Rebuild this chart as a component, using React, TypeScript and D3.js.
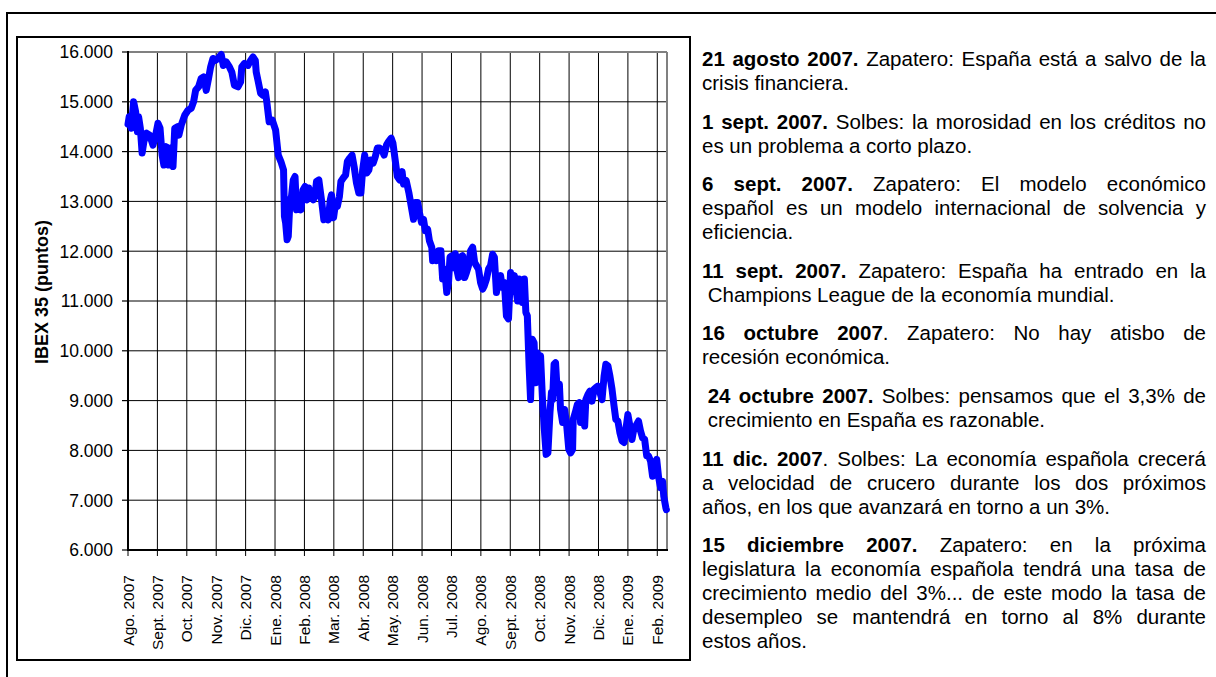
import React, { useMemo } from "react";
import * as d3 from "d3";

// ---------- DATA ----------
const monthLabels = [
  "Ago. 2007", "Sept. 2007", "Oct. 2007", "Nov. 2007", "Dic. 2007",
  "Ene. 2008", "Feb. 2008", "Mar. 2008", "Abr. 2008", "May. 2008",
  "Jun. 2008", "Jul. 2008", "Ago. 2008", "Sept. 2008", "Oct. 2008",
  "Nov. 2008", "Dic. 2008", "Ene. 2009", "Feb. 2009",
];

const yTickValues = [6000, 7000, 8000, 9000, 10000, 11000, 12000, 13000, 14000, 15000, 16000];

const axisTitle = "IBEX 35 (puntos)";

// position in months since start of Aug 2007
const monthPos = [
  0.0, 0.04, 0.11, 0.19, 0.26, 0.32, 0.36, 0.42, 0.48, 0.54, 0.63, 0.74, 0.85, 0.93,
  1.02, 1.09, 1.16, 1.22, 1.3, 1.38, 1.45, 1.53, 1.59, 1.68, 1.73, 1.81, 1.93,
  2.04, 2.15, 2.23, 2.3, 2.4, 2.49, 2.57, 2.66, 2.74, 2.81, 2.89, 2.97,
  3.06, 3.17, 3.24, 3.34, 3.45, 3.53, 3.62, 3.74, 3.83, 3.87, 3.96,
  4.08, 4.17, 4.25, 4.33, 4.36, 4.42, 4.51, 4.59, 4.67, 4.72, 4.8, 4.91,
  5.02, 5.11, 5.2, 5.29, 5.32, 5.36, 5.41, 5.45, 5.51, 5.56, 5.62, 5.68, 5.73, 5.81, 5.88, 5.95,
  6.02, 6.08, 6.15, 6.22, 6.3, 6.36, 6.41, 6.49, 6.58, 6.66, 6.75, 6.81, 6.88, 6.92, 6.99,
  7.06, 7.12, 7.19, 7.24, 7.32, 7.4, 7.46, 7.54, 7.62, 7.69, 7.77, 7.85, 7.92, 7.98,
  8.05, 8.12, 8.19, 8.25, 8.34, 8.41, 8.48, 8.56, 8.64, 8.71, 8.79, 8.86, 8.95,
  9.01, 9.07, 9.16, 9.24, 9.32, 9.37, 9.46, 9.55, 9.63, 9.71, 9.77, 9.85, 9.91, 9.98,
  10.05, 10.11, 10.19, 10.25, 10.33, 10.36, 10.43, 10.5, 10.56, 10.64, 10.7, 10.77, 10.84, 10.9, 10.95,
  11.02, 11.08, 11.13, 11.18, 11.24, 11.31, 11.38, 11.45, 11.51, 11.58, 11.65, 11.72, 11.79, 11.85, 11.92, 11.99,
  12.06, 12.12, 12.19, 12.26, 12.33, 12.4, 12.46, 12.53, 12.6, 12.67, 12.73, 12.8, 12.87, 12.94,
  13.01, 13.07, 13.14, 13.21, 13.25, 13.3, 13.37, 13.41, 13.48, 13.53, 13.58, 13.64, 13.69, 13.75, 13.81, 13.86, 13.92, 13.98,
  14.03, 14.09, 14.15, 14.22, 14.28, 14.35, 14.4, 14.44, 14.49, 14.54, 14.6, 14.67, 14.71, 14.78, 14.85, 14.92, 14.99,
  15.05, 15.12, 15.14, 15.21, 15.28, 15.35, 15.39, 15.46, 15.53, 15.57, 15.64, 15.71, 15.78, 15.85, 15.91, 15.98,
  16.05, 16.12, 16.19, 16.25, 16.32, 16.39, 16.46, 16.53, 16.59, 16.66, 16.73, 16.8, 16.87, 16.93,
  17.0, 17.07, 17.14, 17.2, 17.27, 17.36, 17.43, 17.5, 17.57, 17.64, 17.7, 17.77, 17.84, 17.91, 17.98,
  18.04, 18.11, 18.18, 18.22, 18.29, 18.31,
];

const ibexValues = [
  14550, 14700, 14470, 15000, 14800, 14400, 14700, 14470, 13970, 14200, 14370, 14330, 14130, 14300,
  14570, 14470, 13930, 13730, 14100, 13730, 14070, 13700, 14470, 14500, 14330, 14530, 14730,
  14830, 14870, 15000, 15230, 15300, 15470, 15500, 15230, 15470, 15700, 15870, 15830,
  15870, 15950, 15730, 15800, 15700, 15600, 15330, 15300, 15400, 15700, 15770,
  15730, 15830, 15900, 15830, 15600, 15430, 15170, 15130, 15200, 15000, 14600, 14630,
  14430, 13930, 13800, 13630, 12700, 12570, 12230, 12300, 13030, 13100, 13430, 13500, 12830, 13030, 12830, 13230,
  13300, 13030, 13270, 13100, 13030, 13100, 13400, 13430, 13030, 12630, 12770, 12630, 13030, 13130, 12670,
  12970, 12900, 13100, 13400, 13470, 13530, 13800, 13870, 13930, 13700, 13370, 13170, 13170, 13630,
  13930, 13570, 13630, 13830, 13770, 13900, 14070, 14070, 14030, 13930, 14130, 14200, 14270,
  14170, 13900, 13500, 13430, 13600, 13350, 13420, 13180, 12910, 12640, 12980, 12980, 12780, 12580,
  12640, 12410, 12440, 12210, 12080, 11810, 11980, 11810, 12010, 12010, 11440, 11640, 11170, 11370, 11880,
  11910, 11670, 11950, 11640, 11470, 11880, 11910, 11470, 11570, 11710, 12010, 12080, 11770, 11710, 11640, 11370,
  11240, 11310, 11440, 11640, 11710, 11940, 11880, 11170, 11440, 11510, 11270, 11370, 10700, 10640,
  11570, 11310, 11510, 11170, 11000, 11440, 11100, 10970, 11440, 10770, 10700, 9690, 9020, 10230, 10160, 9360, 9960, 9830,
  9900, 9090, 8490, 7920, 7950, 8760, 9160, 9020, 9730, 9760, 9160, 9330, 8820, 8560, 8820, 8490, 8020,
  7950, 8020, 8620, 8760, 8920, 8960, 8560, 8820, 8490, 9020, 9120, 9190, 8990, 9230, 9260, 9290,
  9160, 9020, 9490, 9730, 9700, 9490, 9230, 8890, 8620, 8590, 8350, 8190, 8160, 8420,
  8720, 8490, 8220, 8420, 8490, 8590, 8390, 8250, 8220, 7890, 7890, 7790, 7480, 7690, 7820,
  7480, 7250, 7380, 7080, 6850, 6810,
];

type Run = [string, boolean];
// paragraphs -> lines -> runs [text, bold]
const notes: Run[][][] = [
  [
    [["21 agosto 2007.", true], [" Zapatero: España está a salvo de la", false]],
    [["crisis financiera.", false]],
  ],
  [
    [["1 sept. 2007.", true], [" Solbes: la morosidad en los créditos no", false]],
    [["es un problema a corto plazo.", false]],
  ],
  [
    [["6 sept. 2007.", true], [" Zapatero: El modelo económico", false]],
    [["español es un modelo internacional de solvencia y", false]],
    [["eficiencia.", false]],
  ],
  [
    [["11 sept. 2007.", true], [" Zapatero: España ha entrado en la", false]],
    [[" Champions League de la economía mundial.", false]],
  ],
  [
    [["16 octubre 2007", true], [". Zapatero: No hay atisbo de", false]],
    [["recesión económica.", false]],
  ],
  [
    [[" 24 octubre 2007.", true], [" Solbes: pensamos que el 3,3% de", false]],
    [[" crecimiento en España es razonable.", false]],
  ],
  [
    [["11 dic. 2007", true], [". Solbes: La economía española crecerá", false]],
    [["a velocidad de crucero durante los dos próximos", false]],
    [["años, en los que avanzará en torno a un 3%.", false]],
  ],
  [
    [["15 diciembre 2007.", true], [" Zapatero: en la próxima", false]],
    [["legislatura la economía española tendrá una tasa de", false]],
    [["crecimiento medio del 3%... de este modo la tasa de", false]],
    [["desempleo se mantendrá en torno al 8% durante", false]],
    [["estos años.", false]],
  ],
];

// ---------- LAYOUT ----------
const W = 1216;
const H = 677;
const PL = 128, PR = 667, PT = 52, PB = 550;
const FONT = '"Liberation Sans", Arial, Helvetica, sans-serif';

const TXT_L = 702, TXT_R = 1206, TXT_Y0 = 66, LINE_H = 24, PARA_GAP = 14.6;
const TXT_SIZE = 20.5, TXT_SX = 1;

const esLocale = d3.formatLocale({ decimal: ",", thousands: ".", grouping: [3], currency: ["", "€"] });
const fmt = esLocale.format(",.0f");

let measureCtx: CanvasRenderingContext2D | null = null;
function measure(s: string, bold: boolean, size: number) {
  if (!measureCtx) measureCtx = document.createElement("canvas").getContext("2d");
  if (!measureCtx) return s.length * size * 0.5;
  measureCtx.font = `${bold ? "bold " : ""}${size}px "Liberation Sans", Arial, sans-serif`;
  return measureCtx.measureText(s).width;
}

function tokenize(line: Run[]) {
  const tokens: Run[][] = [];
  let cur: Run[] = [];
  let leading = 0;
  for (const [txt, b] of line) {
    const parts = txt.split(" ");
    parts.forEach((p, i) => {
      if (i > 0) {
        if (cur.length) { tokens.push(cur); cur = []; }
        else if (tokens.length === 0) leading++;
      }
      if (p) cur.push([p, b]);
    });
  }
  if (cur.length) tokens.push(cur);
  return { tokens, leading };
}

function Notes() {
  const items = useMemo(() => {
    const out: { x: number; y: number; runs: Run[]; key: string }[] = [];
    const spaceW = measure(" ", false, TXT_SIZE) * TXT_SX;
    let y = TXT_Y0;
    notes.forEach((para, pi) => {
      para.forEach((line, li) => {
        const { tokens, leading } = tokenize(line);
        const widths = tokens.map((t) => t.reduce((s, [txt, b]) => s + measure(txt, b, TXT_SIZE), 0) * TXT_SX);
        const x0 = TXT_L + leading * spaceW;
        const justify = li < para.length - 1 && tokens.length > 1;
        const sumW = widths.reduce((a, b) => a + b, 0);
        const gap = justify ? (TXT_R - x0 - sumW) / (tokens.length - 1) : spaceW;
        let x = x0;
        tokens.forEach((t, ti) => {
          out.push({ x, y, runs: t, key: `${pi}-${li}-${ti}` });
          x += widths[ti] + gap;
        });
        y += LINE_H;
      });
      y += PARA_GAP;
    });
    return out;
  }, []);
  return (
    <g fontFamily={FONT} fontSize={TXT_SIZE} fill="#000">
      {items.map((it) => (
        <text key={it.key} transform={`translate(${it.x},${it.y}) scale(${TXT_SX},1)`}>
          {it.runs.map(([t, b], i) => (
            <tspan key={i} fontWeight={b ? "bold" : "normal"}>{t}</tspan>
          ))}
        </text>
      ))}
    </g>
  );
}

export default function App() {
  const x = d3.scaleLinear().domain([0, 18.33]).range([PL, PR]);
  const y = d3.scaleLinear().domain([6000, 16000]).range([PB, PT]);
  const idx = d3.range(ibexValues.length);
  const linePath = d3
    .line<number>()
    .x((i) => x(monthPos[i]))
    .y((i) => y(ibexValues[i]))
    .curve(d3.curveLinear)(idx) as string;

  return (
    <div style={{ position: "absolute", left: 0, top: 0 }}>
      <svg width={W} height={H} style={{ display: "block", background: "#fff" }}>
        <rect x={0} y={0} width={W} height={H} fill="#fff" />
        {/* outer frame */}
        <rect x={7} y={13} width={W + 20} height={H + 20} fill="none" stroke="#000" strokeWidth={2} />
        {/* chart box */}
        <rect x={17} y={37} width={673} height={623} fill="#fff" stroke="#000" strokeWidth={2} />

        {/* horizontal gridlines */}
        {yTickValues.slice(1, -1).map((v) => (
          <line key={v} x1={PL} x2={PR} y1={y(v)} y2={y(v)} stroke="#000" strokeWidth={1} />
        ))}
        {/* vertical gridlines + bottom ticks */}
        {monthLabels.map((m, i) => (
          <line key={m + i} x1={x(i)} x2={x(i)} y1={PT} y2={PB + 6} stroke="#000" strokeWidth={1} />
        ))}
        {/* y ticks */}
        {yTickValues.map((v) => (
          <line key={"t" + v} x1={PL - 6} x2={PL} y1={y(v)} y2={y(v)} stroke="#000" strokeWidth={1.2} />
        ))}
        {/* plot border: top/right gray */}
        <line x1={PL} x2={PR} y1={PT} y2={PT} stroke="#808080" strokeWidth={2} />
        <line x1={PR} x2={PR} y1={PT} y2={PB} stroke="#808080" strokeWidth={2} />
        {/* axes */}
        <line x1={PL} x2={PR + 1} y1={PB} y2={PB} stroke="#000" strokeWidth={2} />
        <line x1={PL} x2={PL} y1={PT - 1} y2={PB + 1} stroke="#000" strokeWidth={2} />

        {/* data line */}
        <path d={linePath} fill="none" stroke="#0000FF" strokeWidth={7} strokeLinejoin="round" strokeLinecap="round" />

        {/* y labels */}
        <g fontFamily={FONT} fontSize={17.5} fill="#000">
          {yTickValues.map((v) => (
            <text key={"l" + v} x={113} y={y(v)} dy="0.36em" textAnchor="end">{fmt(v)}</text>
          ))}
        </g>
        {/* x labels */}
        <g fontFamily={FONT} fontSize={15.5} fill="#000">
          {monthLabels.map((m, i) => (
            <text key={"x" + i} transform={`translate(${x(i)},575) rotate(-90)`} dy="0.36em" textAnchor="end">{m}</text>
          ))}
        </g>
        {/* y title */}
        <text transform="translate(42,292) rotate(-90)" dy="0.36em" textAnchor="middle" fontFamily={FONT} fontSize={18} fontWeight="bold">
          {axisTitle}
        </text>

        <Notes />
      </svg>
    </div>
  );
}
